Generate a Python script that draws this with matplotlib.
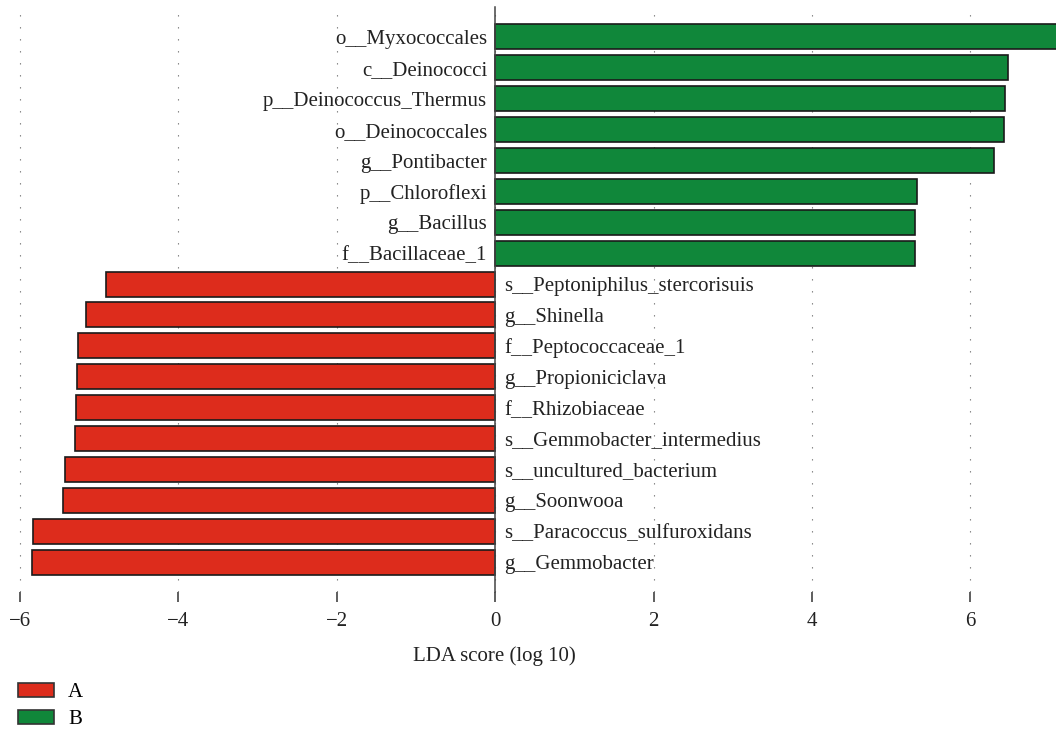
import matplotlib
matplotlib.use("Agg")
import matplotlib.pyplot as plt
import matplotlib.transforms as mtransforms
from matplotlib.patches import Patch

# Data (top to bottom)
features = [
    "o__Myxococcales", "c__Deinococci", "p__Deinococcus_Thermus", "o__Deinococcales",
    "g__Pontibacter", "p__Chloroflexi", "g__Bacillus", "f__Bacillaceae_1",
    "s__Peptoniphilus_stercorisuis", "g__Shinella", "f__Peptococcaceae_1",
    "g__Propioniciclava", "f__Rhizobiaceae", "s__Gemmobacter_intermedius",
    "s__uncultured_bacterium", "g__Soonwooa", "s__Paracoccus_sulfuroxidans",
    "g__Gemmobacter",
]
lda_scores = [7.25, 6.47, 6.43, 6.42, 6.30, 5.32, 5.30, 5.30,
              -4.92, -5.17, -5.27, -5.28, -5.29, -5.30, -5.43, -5.46, -5.83, -5.85]
groups = ["B"] * 8 + ["A"] * 10
group_names = ["A", "B"]
group_colors = {"A": "#DD2C1C", "B": "#10873A"}
xticks = [-6, -4, -2, 0, 2, 4, 6]

FONT = "Liberation Serif"
plt.rcParams["font.family"] = [FONT, "DejaVu Serif"]
plt.rcParams["axes.unicode_minus"] = True

fig = plt.figure(figsize=(10.56, 7.29), dpi=100)
ax = fig.add_axes([10 / 1056, (729 - 592) / 729, 1 - 10 / 1056, (592 - 7) / 729])

ypos = list(range(len(features)))
colors = [group_colors[g] for g in groups]
ax.barh(ypos, lda_scores, height=0.81, color=colors, edgecolor="#1a1a1a",
        linewidth=1.2, zorder=2)

ax.set_xlim(-6.126, 7.08)
ax.set_ylim(len(features) - 1 + 0.97, -0.97)

ax.set_xticks(xticks)
ax.set_xticklabels([str(t).replace("-", "\u2212") for t in xticks], fontsize=15)
ax.set_yticks([])
ax.tick_params(axis="x", direction="out", length=7.5, width=1.1, color="#333333",
               pad=7, labelcolor="#222222")

for s in ["top", "right", "bottom"]:
    ax.spines[s].set_visible(False)
ax.spines["left"].set_position(("data", 0))
ax.spines["left"].set_color("#444444")
ax.spines["left"].set_linewidth(1.1)
ax.spines["left"].set_zorder(3)

ax.set_axisbelow(True)
ax.grid(axis="x", color="#777777", linewidth=0.8, linestyle=(0, (1.2, 9.6)))

off_left = mtransforms.ScaledTranslation(-8 / 100, -2.5 / 100, fig.dpi_scale_trans)
off_right = mtransforms.ScaledTranslation(9 / 100, -2.5 / 100, fig.dpi_scale_trans)
for y, name, v in zip(ypos, features, lda_scores):
    if v > 0:
        ax.text(0, y, name, ha="right", va="center", fontsize=15, color="#222222",
                transform=ax.transData + off_left)
    else:
        ax.text(0, y, name, ha="left", va="center", fontsize=15, color="#222222",
                transform=ax.transData + off_right)

ax.set_xlabel("LDA score (log 10)", fontsize=15, color="#222222")
ax.xaxis.set_label_coords((494 - 10) / 1046, -0.092)

handles = [Patch(facecolor=group_colors[g], edgecolor="#333333", linewidth=1.2)
           for g in group_names]
fig.legend(handles, group_names, loc="upper left",
           bbox_to_anchor=(18 / 1056, 1 - 683 / 729), frameon=False, fontsize=15,
           handlelength=1.75, handleheight=0.65, handletextpad=0.65,
           labelspacing=0.36, borderpad=0, borderaxespad=0)

fig.savefig("out.png", dpi=100)
